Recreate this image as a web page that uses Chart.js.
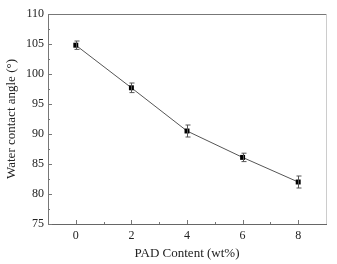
<!DOCTYPE html>
<html>
<head>
<meta charset="utf-8">
<script src="https://cdn.jsdelivr.net/npm/chart.js@4.4.0/dist/chart.umd.min.js"></script>
<style>
  html, body { margin: 0; padding: 0; background: #fff; }
  #wrap { width: 337px; height: 264px; }
</style>
</head>
<body>
<div id="wrap"><canvas id="canvas" width="337" height="264"></canvas></div>
<script>
// values
var padContent = [0, 2, 4, 6, 8];
var contactAngle = [104.8, 97.7, 90.5, 86.1, 82.0];
var angleError = [0.7, 0.8, 1.0, 0.7, 1.0];
var xTicks = [0, 2, 4, 6, 8];
var yTicks = [75, 80, 85, 90, 95, 100, 105, 110];

var points = padContent.map(function(x, i) {
  return { x: x, y: contactAngle[i] };
});

var serif = "'Liberation Serif', 'Times New Roman', serif";

// error bars, inward ticks and the box round the plot
var framePlugin = {
  id: 'frame',
  afterDatasetsDraw: function(chart) {
    var ctx = chart.ctx;
    var xs = chart.scales.x, ys = chart.scales.y;
    var a = chart.chartArea;
    ctx.save();

    // error bars
    ctx.strokeStyle = '#555';
    ctx.lineWidth = 1;
    padContent.forEach(function(x, i) {
      var px = Math.round(xs.getPixelForValue(x)) + 0.5;
      var top = ys.getPixelForValue(contactAngle[i] + angleError[i]);
      var bot = ys.getPixelForValue(contactAngle[i] - angleError[i]);
      ctx.beginPath();
      ctx.moveTo(px, top); ctx.lineTo(px, bot);
      ctx.moveTo(px - 2, top); ctx.lineTo(px + 3, top);
      ctx.moveTo(px - 2, bot); ctx.lineTo(px + 3, bot);
      ctx.stroke();
    });

    // frame
    ctx.strokeStyle = '#777';
    ctx.beginPath();
    ctx.moveTo(a.left + 0.5, a.bottom + 0.5);
    ctx.lineTo(a.left + 0.5, a.top + 0.5);
    ctx.lineTo(a.right + 0.5, a.top + 0.5);
    ctx.stroke();
    ctx.strokeStyle = '#ccc';
    ctx.beginPath();
    ctx.moveTo(a.right + 0.5, a.top + 0.5);
    ctx.lineTo(a.right + 0.5, a.bottom + 0.5);
    ctx.stroke();
    ctx.strokeStyle = '#666';
    ctx.beginPath();
    ctx.moveTo(a.left, a.bottom + 0.5);
    ctx.lineTo(a.right + 1, a.bottom + 0.5);
    ctx.stroke();

    // inward ticks, major and minor
    ctx.strokeStyle = '#777';
    ctx.beginPath();
    for (var v = 0; v <= 8; v++) {
      var px = Math.round(xs.getPixelForValue(v)) + 0.5;
      var len = v % 2 === 0 ? 4 : 2;
      ctx.moveTo(px, a.bottom);
      ctx.lineTo(px, a.bottom - len);
    }
    for (var w = 75; w <= 110; w += 2.5) {
      var py = Math.round(ys.getPixelForValue(w)) + 0.5;
      var l2 = w % 5 === 0 ? 4 : 2;
      ctx.moveTo(a.left, py);
      ctx.lineTo(a.left + l2, py);
    }
    ctx.stroke();
    ctx.restore();
  }
};

var ctx = document.getElementById('canvas').getContext('2d');
window.my_chart = new Chart(ctx, {
  type: 'scatter',
  data: {
    datasets: [{
      data: points,
      showLine: true,
      borderColor: '#555',
      borderWidth: 1,
      backgroundColor: '#000',
      pointStyle: 'rect',
      pointRadius: 3.5,
      pointBorderWidth: 0,
      pointBorderColor: '#000'
    }]
  },
  options: {
    responsive: false,
    animation: false,
    layout: { padding: { left: 0, right: 11, top: 14, bottom: 0 } },
    plugins: { legend: { display: false }, tooltip: { enabled: false } },
    scales: {
      x: {
        type: 'linear',
        min: -1,
        max: 9,
        afterBuildTicks: function(scale) {
          scale.ticks = xTicks.map(function(v) { return { value: v }; });
        },
        afterFit: function(scale) { scale.height = 40; },
        grid: { display: false, drawTicks: false },
        border: { display: false },
        ticks: { color: '#222', padding: 5, font: { family: serif, size: 12 } },
        title: {
          display: true,
          text: 'PAD Content (wt%)',
          color: '#222',
          padding: { top: 0, bottom: 3 },
          font: { family: serif, size: 13 }
        }
      },
      y: {
        type: 'linear',
        min: 75,
        max: 110,
        afterBuildTicks: function(scale) {
          scale.ticks = yTicks.map(function(v) { return { value: v }; });
        },
        afterFit: function(scale) { scale.width = 48; },
        grid: { display: false, drawTicks: false },
        border: { display: false },
        ticks: { color: '#222', padding: 4, font: { family: serif, size: 12 } },
        title: {
          display: true,
          text: 'Water contact angle (°)',
          color: '#222',
          padding: { top: 4, bottom: 0 },
          font: { family: serif, size: 13 }
        }
      }
    }
  },
  plugins: [framePlugin]
});
</script>
</body>
</html>
